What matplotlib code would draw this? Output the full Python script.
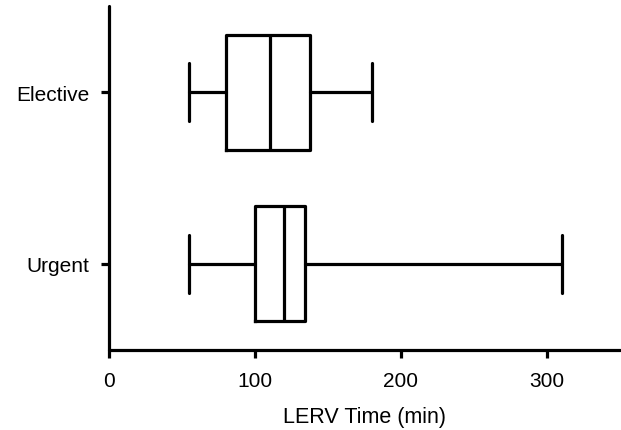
import matplotlib
matplotlib.use("Agg")
import matplotlib.pyplot as plt

plt.rcParams['font.family'] = ['Liberation Sans', 'DejaVu Sans']

# box summary values (minutes)
groups = ["Urgent", "Elective"]
whislo = [55, 55]
q1 = [100, 80]
med = [120, 110]
q3 = [134, 138]
whishi = [310, 180]

stats = []
for g, lo, a, m, b, hi in zip(groups, whislo, q1, med, q3, whishi):
    stats.append(dict(label=g, whislo=lo, q1=a, med=m, q3=b, whishi=hi, fliers=[]))

fig = plt.figure(figsize=(6.21, 4.31), dpi=100)
ax = fig.add_axes([109 / 621, 1 - 350.7 / 431, (620 - 109) / 621, (350.7 - 7.3) / 431])

lw = 2.3
line = dict(color="black", linewidth=lw, solid_capstyle="round")
ax.bxp(stats, positions=[0, 1], orientation="horizontal", widths=0.67,
       capwidths=0.34, showfliers=False,
       boxprops=dict(color="black", linewidth=lw),
       medianprops=dict(color="black", linewidth=lw),
       whiskerprops=line, capprops=line)

ax.set_xlim(0, 350)
ax.set_ylim(-0.5, 1.5)
ax.set_xticks([0, 100, 200, 300])
ax.set_yticks([0, 1])
ax.set_yticklabels(groups)

for s in ["top", "right"]:
    ax.spines[s].set_visible(False)
for s in ["left", "bottom"]:
    ax.spines[s].set_linewidth(lw)
    ax.spines[s].set_capstyle("round")

ax.tick_params(axis="both", width=lw, length=6, labelsize=15, colors="black")
ax.tick_params(axis="x", pad=9)
ax.tick_params(axis="y", pad=8)
ax.set_xlabel("LERV Time (min)", fontsize=15.5, labelpad=12)

fig.savefig("out.png", dpi=100)
